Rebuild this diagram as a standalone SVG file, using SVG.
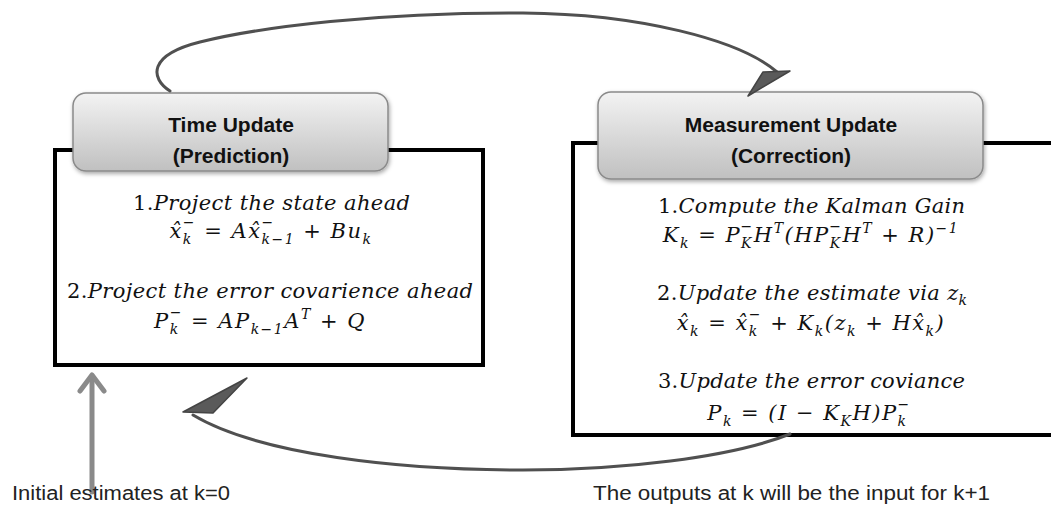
<svg xmlns="http://www.w3.org/2000/svg" width="1051" height="510" viewBox="0 0 1051 510">
<defs>
<linearGradient id="hdr" x1="0" y1="0" x2="0" y2="1">
<stop offset="0" stop-color="#f3f3f3"/>
<stop offset="1" stop-color="#c0c0c0"/>
</linearGradient>
<filter id="sh" x="-10%" y="-10%" width="120%" height="130%">
<feDropShadow dx="1" dy="2" stdDeviation="2" flood-color="#000" flood-opacity="0.35"/>
</filter>
</defs>
<style>
.box{fill:#fff;stroke:#000;stroke-width:4}
.hdr{fill:url(#hdr);stroke:#8a8a8a;stroke-width:1.5;filter:url(#sh)}
.ht{font-family:"Liberation Sans",Arial,sans-serif;font-weight:bold;font-size:21px;fill:#111;text-anchor:middle}
.t{font-family:"DejaVu Serif",serif;font-size:21px;fill:#111}
.i{font-style:italic}
.m{font-family:"DejaVu Serif",serif;font-size:21px;font-style:italic;letter-spacing:1.5px;fill:#111;text-anchor:middle}
.s{font-size:14px}
.lbl{font-family:"Liberation Sans",Arial,sans-serif;font-size:20px;fill:#222}
.cv{fill:none;stroke:#505050;stroke-width:3;stroke-linecap:round}
.ah{fill:#5a5a5a;stroke:#444;stroke-width:1.5;stroke-linejoin:round}
.ga{fill:none;stroke:#8a8a8a;stroke-width:5;stroke-linecap:round;stroke-linejoin:round}
</style>
<rect width="1051" height="510" fill="#fff"/>

<g id="time-update">
<rect class="box" x="55" y="150" width="428" height="215"/>
<rect class="hdr" x="73" y="93" width="315" height="78" rx="13"/>
<text class="ht" x="231" y="132">Time Update</text>
<text class="ht" x="231" y="163">(Prediction)</text>
<text class="t" x="133" y="210" textLength="277" lengthAdjust="spacing"><tspan>1.</tspan><tspan class="i">Project the state ahead</tspan></text>
<text class="m" x="271" y="238"><tspan>x̂</tspan><tspan class="s" dy="6">k</tspan><tspan class="s" dx="-10" dy="-17">−</tspan><tspan dy="11"> = Ax̂</tspan><tspan class="s" dy="6">k−1</tspan><tspan class="s" dx="-33.6" dy="-17">−</tspan><tspan dx="20.4" dy="11"> + Bu</tspan><tspan class="s" dy="6">k</tspan></text>
<text class="t" x="67" y="298" textLength="406" lengthAdjust="spacing"><tspan>2.</tspan><tspan class="i">Project the error covarience ahead</tspan></text>
<text class="m" x="260" y="328"><tspan>P</tspan><tspan class="s" dy="6">k</tspan><tspan class="s" dx="-10" dy="-17">−</tspan><tspan dy="11"> = AP</tspan><tspan class="s" dy="6">k−1</tspan><tspan dy="-6">A</tspan><tspan class="s" dy="-9">T</tspan><tspan dy="9"> + Q</tspan></text>
</g>

<g id="measurement-update">
<rect class="box" x="573" y="143" width="500" height="292"/>
<rect class="hdr" x="598" y="92" width="385" height="87" rx="13"/>
<text class="ht" x="791" y="132">Measurement Update</text>
<text class="ht" x="791" y="163">(Correction)</text>
<text class="t" x="658" y="213" textLength="307" lengthAdjust="spacing"><tspan>1.</tspan><tspan class="i">Compute the Kalman Gain</tspan></text>
<text class="m" x="811" y="242"><tspan>K</tspan><tspan class="s" dy="6">k</tspan><tspan dy="-6"> = P</tspan><tspan class="s" dy="6">K</tspan><tspan class="s" dx="-12.4" dy="-17">−</tspan><tspan dy="11">H</tspan><tspan class="s" dy="-9">T</tspan><tspan dy="9">(HP</tspan><tspan class="s" dy="6">K</tspan><tspan class="s" dx="-12.4" dy="-17">−</tspan><tspan dy="11">H</tspan><tspan class="s" dy="-9">T</tspan><tspan dy="9"> + R)</tspan><tspan class="s" dy="-9">−1</tspan></text>
<text class="t" x="657" y="300" textLength="310" lengthAdjust="spacing"><tspan>2.</tspan><tspan class="i">Update the estimate via z</tspan><tspan class="i s" dy="5">k</tspan></text>
<text class="m" x="811" y="330"><tspan>x̂</tspan><tspan class="s" dy="6">k</tspan><tspan dy="-6"> = x̂</tspan><tspan class="s" dy="6">k</tspan><tspan class="s" dx="-10" dy="-17">−</tspan><tspan dy="11"> + K</tspan><tspan class="s" dy="6">k</tspan><tspan dy="-6">(z</tspan><tspan class="s" dy="6">k</tspan><tspan dy="-6"> + Hx̂</tspan><tspan class="s" dy="6">k</tspan><tspan dy="-6">)</tspan></text>
<text class="t" x="658" y="388" textLength="307" lengthAdjust="spacing"><tspan>3.</tspan><tspan class="i">Update the error coviance</tspan></text>
<text class="m" x="809" y="420"><tspan>P</tspan><tspan class="s" dy="6">k</tspan><tspan dy="-6"> = (I − K</tspan><tspan class="s" dy="6">K</tspan><tspan dy="-6">H)P</tspan><tspan class="s" dy="6">k</tspan><tspan class="s" dx="-10" dy="-17">−</tspan></text>
</g>

<g id="connectors">
<path class="cv" d="M170,91 C150,78 148,55 200,42 C260,27 380,12 523,13 C640,14 740,40 777,72"/>
<polygon class="ah" points="748,96 763,72 790,71"/>
<path class="cv" d="M790,434 C730,458 620,470 523,470 C400,470 260,455 193,415"/>
<polygon class="ah" points="183,412 247,378 213,413"/>
<line class="ga" x1="92" y1="492" x2="92" y2="376"/>
<polyline class="ga" points="80,391 92,375 104,391"/>
</g>

<g id="labels">
<text class="lbl" x="12" y="500" textLength="218" lengthAdjust="spacingAndGlyphs">Initial estimates at k=0</text>
<text class="lbl" x="593" y="500" textLength="397" lengthAdjust="spacingAndGlyphs">The outputs at k will be the input for k+1</text>
</g>
</svg>
